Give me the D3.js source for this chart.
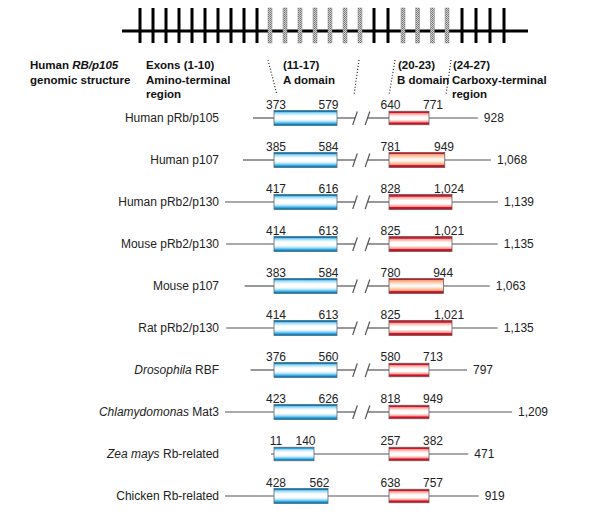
<!DOCTYPE html>
<html>
<head>
<meta charset="utf-8">
<script src="https://cdn.jsdelivr.net/npm/d3@7"></script>
<style>
  html, body { margin: 0; padding: 0; background: #fff; }
  svg { display: block; font-family: "Liberation Sans", Arial, Helvetica, sans-serif; }
</style>
</head>
<body>
<svg id="chart" width="600" height="528"></svg>
<script>
// ---------------- DATA ----------------
const proteins = ["Human pRb/p105", "Human p107", "Human pRb2/p130", "Mouse pRb2/p130", "Mouse p107",
  "Rat pRb2/p130", "Drosophila RBF", "Chlamydomonas Mat3", "Zea mays Rb-related", "Chicken Rb-related"];
const italicPart = ["", "", "", "", "", "", "Drosophila", "Chlamydomonas", "Zea mays", ""];
const aStart = [373, 385, 417, 414, 383, 414, 376, 423, 11, 428];
const aEnd   = [579, 584, 616, 613, 584, 613, 560, 626, 140, 562];
const bStart = [640, 781, 828, 825, 780, 825, 580, 818, 257, 638];
const bEnd   = [771, 949, 1024, 1021, 944, 1021, 713, 949, 382, 757];
const totalLength = [928, 1068, 1139, 1135, 1063, 1135, 797, 1209, 471, 919];
const brokenLine = [true, true, true, true, true, true, true, true, false, false];

// exon structure of human RB gene (27 exons)
const exonRegion = ["N","N","N","N","N","N","N","N","N","N",
  "A","A","A","A","A","A","A", "N","N", "B","B","B","B", "C","C","C","C"];
const regionLabels = [
  { lines: ["Exons (1-10)", "Amino-terminal", "region"], exon: 1 },
  { lines: ["(11-17)", "A domain"], exon: 11 },
  { lines: ["(20-23)", "B domain"], exon: 20 },
  { lines: ["(24-27)", "Carboxy-terminal", "region"], exon: 24 }
];
const domainExons = [11, 17, 20, 23];

// ---------------- LAYOUT ----------------
const svg = d3.select("#chart");
const defs = svg.append("defs");

function grad(id, stops) {
  const g = defs.append("linearGradient").attr("id", id)
    .attr("x1", 0).attr("y1", 0).attr("x2", 0).attr("y2", 1);
  stops.forEach(([o, c]) => g.append("stop").attr("offset", o).attr("stop-color", c));
}
grad("blueG", [[0,"#0a7fc0"],[0.07,"#0a7fc0"],[0.12,"#6cc4ee"],[0.24,"#c6ebfa"],[0.38,"#ffffff"],
  [0.58,"#ffffff"],[0.7,"#c9ecfa"],[0.79,"#7dcdf2"],[0.87,"#2ea6e0"],[0.92,"#0a86c8"],[1,"#0a7fc0"]]);
grad("redG", [[0,"#d2142b"],[0.12,"#d2142b"],[0.17,"#f4a09a"],[0.3,"#fbd8d2"],[0.42,"#ffffff"],
  [0.6,"#ffffff"],[0.7,"#fbd0c8"],[0.8,"#f39a92"],[0.86,"#d2142b"],[1,"#c80d24"]]);
grad("peachG", [[0,"#d2142b"],[0.07,"#d2142b"],[0.12,"#f5a07a"],[0.25,"#f9c9a8"],[0.38,"#fde9dc"],
  [0.5,"#ffffff"],[0.62,"#fde4d2"],[0.72,"#f8c09c"],[0.82,"#f39a75"],[0.87,"#d2142b"],[1,"#c80d24"]]);
const pat = defs.append("pattern").attr("id", "hatch").attr("width", 2).attr("height", 2)
  .attr("patternUnits", "userSpaceOnUse");
pat.append("rect").attr("width", 2).attr("height", 2).attr("fill", "#d2d2d2");
pat.append("rect").attr("width", 1).attr("height", 1).attr("fill", "#6e6e6e");
pat.append("rect").attr("x", 1).attr("y", 1).attr("width", 1).attr("height", 1).attr("fill", "#8a8a8a");

// ---- genomic structure ----
// schematic (non-uniform) exon spacing, as in the drawing
const exonX = d3.scaleLinear()
  .domain([1, 10, 11, 17, 18, 19, 20, 23, 24, 27])
  .range([140, 257, 270, 360, 374, 388, 403, 447, 462, 504]);
const geneY = 31;
svg.append("line").attr("x1", 122).attr("x2", 528).attr("y1", geneY).attr("y2", geneY)
  .attr("stroke", "#000").attr("stroke-width", 3);
svg.append("g").selectAll("rect").data(exonRegion).join("rect")
  .attr("x", (d, i) => exonX(i + 1) - (d === "A" || d === "B" ? 2 : 1.5))
  .attr("y", 8).attr("height", 35)
  .attr("width", d => d === "A" || d === "B" ? 4 : 3)
  .attr("fill", d => d === "A" || d === "B" ? "url(#hatch)" : "#000")
  .attr("stroke", d => d === "A" || d === "B" ? "#888" : "none")
  .attr("stroke-width", 0.5);

const boldText = { "font-weight": "bold", "font-size": "11.5px", "fill": "#111" };
function applyAttrs(sel, o) { Object.entries(o).forEach(([k, v]) => sel.attr(k, v)); return sel; }
const lineStep = 14.7, firstBase = 69;

const title = applyAttrs(svg.append("text").attr("x", 30).attr("y", firstBase), boldText);
title.append("tspan").text("Human ");
title.append("tspan").attr("font-style", "italic").text("RB/p105");
applyAttrs(svg.append("text").attr("x", 30).attr("y", firstBase + lineStep), boldText).text("genomic structure");

const labelX = [146, 283, 398, 453];
regionLabels.forEach((r, k) => {
  r.lines.forEach((ln, j) => {
    applyAttrs(svg.append("text"), boldText)
      .attr("x", labelX[k] - (j > 0 && k >= 2 ? 1 : 0))
      .attr("y", firstBase + j * lineStep).text(ln);
  });
});

// ---- protein rows ----
const rowY = d3.scalePoint().domain(proteins).range([118, 496]);
const xA0 = 274, xB0 = 389, slash1 = 355, slash2 = 367.5;
const widthA = d3.scaleLinear().domain([129, 134, 184]).range([40, 54, 63]).clamp(true);
const widthB = d3.scaleLinear().domain([135, 165, 196]).range([40, 55, 63]).clamp(true);
const leftTail = d3.scaleLinear().domain([11, 373, 385, 416]).range([3, 21, 31, 49]).clamp(true);
const rightTail = d3.scaleLinear().domain([84, 115, 160, 260]).range([38, 46, 49, 83]).clamp(true);
const fmt = d3.format(",");

// dotted connectors from gene to protein
const dotShift = [-2, -1, -8, 4];
const dotBottom = [xA0 + 3, slash1 - 1, xB0, 446];
domainExons.forEach((e, i) => {
  svg.append("line").attr("x1", exonX(e) + dotShift[i]).attr("y1", 60)
    .attr("x2", dotBottom[i]).attr("y2", 95)
    .attr("stroke", "#222").attr("stroke-width", 1.2).attr("stroke-dasharray", "1,2");
});

const lineColor = "#555";
proteins.forEach((name, i) => {
  const y = rowY(name);
  const g = svg.append("g");
  const a0 = xA0, a1 = xA0 + widthA(aEnd[i] - aStart[i]);
  const b0 = xB0, b1 = xB0 + widthB(bEnd[i] - bStart[i]);
  const l0 = a0 - leftTail(aStart[i]);
  const l1 = b1 + rightTail(totalLength[i] - bEnd[i]);

  const seg = (x1, x2) => g.append("line").attr("x1", x1).attr("x2", x2).attr("y1", y).attr("y2", y)
    .attr("stroke", lineColor).attr("stroke-width", 1.2);
  if (brokenLine[i]) {
    seg(l0, a0); seg(a1, slash1); seg(slash2, b0); seg(b1, l1);
    [slash1, slash2].forEach(sx => g.append("line")
      .attr("x1", sx - 2.3).attr("y1", y + 7).attr("x2", sx + 2.3).attr("y2", y - 6.5)
      .attr("stroke", lineColor).attr("stroke-width", 1.2));
  } else {
    seg(l0, l1);
  }
  const hA = (a1 - a0) < 45 ? 13.5 : 15;
  const hB = (b1 - b0) < 45 ? 13.5 : 15;
  g.append("rect").attr("x", a0).attr("y", y - hA / 2).attr("width", a1 - a0).attr("height", hA)
    .attr("fill", "url(#blueG)").attr("stroke", "#5a6a75").attr("stroke-width", 0.8);
  g.append("rect").attr("x", b0).attr("y", y - hB / 2).attr("width", b1 - b0).attr("height", hB)
    .attr("fill", name.includes("p107") ? "url(#peachG)" : "url(#redG)")
    .attr("stroke", "#6a5a5a").attr("stroke-width", 0.8);

  const num = (x, t, anchor) => g.append("text").attr("x", x).attr("y", y - 9.5)
    .attr("text-anchor", anchor).attr("font-size", "12px").attr("fill", "#222").text(t);
  num(a0 + 2, fmt(aStart[i]), "middle");
  num(a1 + 1.5, fmt(aEnd[i]), "end");
  num(b0 + 1.5, fmt(bStart[i]), "middle");
  num(b1 + 4 - 0.3 * (b1 - b0 - 40), fmt(bEnd[i]), "middle");

  g.append("text").attr("x", l1 + 6).attr("y", y).attr("dy", "0.36em")
    .attr("font-size", "12px").attr("fill", "#222").text(fmt(totalLength[i]));

  const lab = g.append("text").attr("x", 219).attr("y", y).attr("dy", "0.36em")
    .attr("text-anchor", "end").attr("font-size", "12px").attr("fill", "#222");
  if (italicPart[i]) {
    lab.append("tspan").attr("font-style", "italic").text(italicPart[i]);
    lab.append("tspan").text(name.slice(italicPart[i].length));
  } else {
    lab.text(name);
  }
});
</script>
</body>
</html>
